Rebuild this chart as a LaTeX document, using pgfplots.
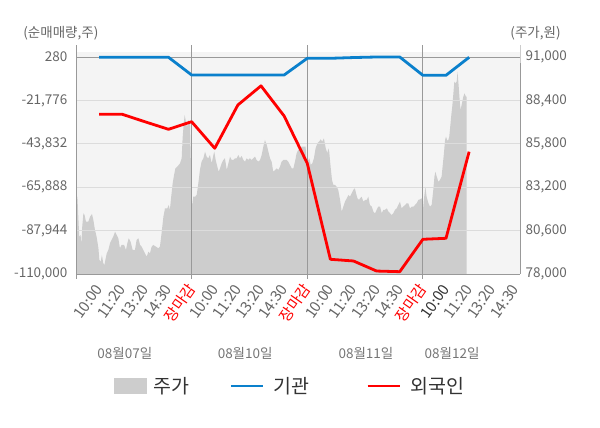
\documentclass[border=0pt]{standalone}
\usepackage{fontspec}
\setmainfont{Noto Sans CJK KR}
\usepackage{pgfplots}
\pgfplotsset{compat=1.18}
\definecolor{bgc}{HTML}{F4F4F4}
\definecolor{areac}{HTML}{CDCDCD}
\definecolor{bluec}{HTML}{0A80CC}
\definecolor{redc}{HTML}{FF0000}
\definecolor{txt}{HTML}{666666}
\definecolor{axc}{HTML}{999999}
\definecolor{rax}{HTML}{CCCCCC}
\definecolor{gridc}{HTML}{DCDCDC}
\definecolor{legtxt}{HTML}{333333}

\pgfplotstableread{
x y
0.00 82536
0.06 82632
0.10 81434
0.14 80236
0.20 80338
0.23 79739
0.27 80835
0.32 81638
0.37 81536
0.43 81134
0.53 81134
0.61 81434
0.69 81596
0.75 81236
0.82 80637
0.89 80236
0.97 79541
1.01 78840
1.07 78738
1.12 79140
1.18 78643
1.23 78541
1.27 78840
1.33 79242
1.40 79439
1.47 79841
1.54 80038
1.61 80236
1.69 80535
1.76 80338
1.83 80140
1.90 79541
1.97 79739
2.08 79739
2.16 79439
2.22 79841
2.28 80140
2.36 79936
2.45 79439
2.55 79439
2.62 80038
2.70 80140
2.77 79739
2.84 79636
2.91 79439
2.98 79242
3.06 79038
3.13 79337
3.20 79242
3.27 79636
3.34 79739
3.46 79636
3.56 79541
3.63 79636
3.70 80440
3.78 81434
3.85 81937
3.95 81937
4.01 82135
4.06 81835
4.11 82536
4.18 83434
4.24 83932
4.30 84333
4.38 84429
4.50 84630
4.57 84932
4.61 86130
4.66 87029
4.70 87526
4.74 87226
4.79 86825
4.83 86927
4.87 87226
4.93 87029
4.97 84429
5.02 82033
5.07 82632
5.15 82632
5.22 82734
5.29 83434
5.36 84231
5.43 84728
5.51 84932
5.58 85327
5.65 85028
5.72 84932
5.79 85130
5.87 84633
5.94 85130
5.98 85327
6.04 84830
6.11 84429
6.17 84129
6.23 84333
6.30 84633
6.37 84830
6.44 84932
6.52 84231
6.59 84633
6.66 85028
6.73 84830
6.80 84830
6.88 84932
6.95 84932
7.02 85130
7.09 84932
7.16 85070
7.24 84830
7.31 84728
7.38 84932
7.45 84830
7.52 84932
7.60 84830
7.67 84932
7.74 85028
7.81 84830
7.88 84728
7.96 84830
8.03 85130
8.10 85627
8.17 86028
8.25 85729
8.32 85327
8.39 84932
8.46 84728
8.53 84129
8.61 84231
8.68 84333
8.75 84231
8.82 84429
8.89 84728
8.97 84830
9.04 84830
9.11 84830
9.18 84728
9.25 84531
9.33 84333
9.40 84333
9.47 84728
9.54 85232
9.61 85429
9.69 85531
9.76 85627
9.93 85627
9.97 84728
10.05 84830
10.09 84932
10.15 84531
10.22 84633
10.29 84932
10.36 85531
10.44 85831
10.51 85926
10.58 86070
10.65 85926
10.72 86130
10.80 85531
10.87 85232
10.91 85531
10.95 85327
11.01 84429
11.07 83632
11.13 83333
11.20 83333
11.27 83231
11.34 83033
11.42 82434
11.49 81733
11.56 82033
11.63 82332
11.71 82536
11.78 82734
11.85 82632
11.92 82836
11.99 83033
12.06 83135
12.11 82836
12.17 82536
12.24 82434
12.28 82536
12.35 82632
12.43 82332
12.50 82434
12.57 82434
12.64 82632
12.71 82135
12.79 82033
12.86 81733
12.93 81638
13.00 81835
13.07 82033
13.15 82033
13.22 81638
13.29 81835
13.36 81835
13.44 81937
13.51 81734
13.58 81638
13.65 81536
13.72 81638
13.79 81835
13.87 81937
13.94 82135
14.01 82332
14.08 81937
14.15 82033
14.23 82135
14.30 82236
14.37 82236
14.44 81937
14.52 82033
14.59 82033
14.66 82135
14.73 82236
14.80 82434
14.88 82476
14.95 82536
14.99 81638
15.05 82536
15.11 83231
15.16 82632
15.24 82236
15.31 82033
15.38 82135
15.45 83033
15.50 83830
15.54 84129
15.60 83830
15.67 83530
15.74 83632
15.81 83830
15.86 84531
15.91 85232
15.96 86028
16.00 86226
16.06 85986
16.10 86028
16.14 86226
16.19 86927
16.23 87526
16.27 88023
16.32 88826
16.36 89520
16.40 89425
16.46 89520
16.50 90119
16.55 89221
16.59 88424
16.63 87825
16.69 88227
16.75 88622
16.80 88826
16.86 88622
16.89 88622
}\pricetable

\pgfplotstableread{
x y
1 130
2 130
3 130
4 130
5 -8868
6 -8868
7 -8868
8 -8868
9 -8868
10 -380
11 -380
12 0
13 280
14 280
15 -9020
16 -9020
17 130
}\insttable

\pgfplotstableread{
x y
1 -28840
2 -28840
3 -32700
4 -36460
5 -32600
6 -46120
7 -24110
8 -14380
9 -29700
10 -53740
11 -102530
12 -103390
13 -108500
14 -108830
15 -92360
16 -91860
17 -47850
}\foreigntable

\begin{document}
\begin{tikzpicture}
\path[use as bounding box] (0pt,0pt) rectangle (600pt,428pt);
\begin{pgfinterruptboundingbox}
% price axis (right)
\begin{axis}[
  at={(76pt,154pt)}, anchor=south west, scale only axis,
  width=444pt, height=229pt,
  xmin=0, xmax=19.2, ymin=78000, ymax=91719,
  scaled y ticks=false,
  axis x line=none,
  axis y line*=right,
  axis line style={draw=rax, line width=0.8pt, -},
  ytick={78000,80600,83200,85800,88400,91000},
  yticklabels={{78,000},{80,600},{83,200},{85,800},{88,400},{91,000}},
  yticklabel style={font=\fontsize{13.5}{16}\selectfont, text=txt, anchor=west, xshift=2pt},
  major tick length=0pt,
]
\fill[bgc] (rel axis cs:0,0) rectangle (rel axis cs:1,0.9694);
\addplot[fill=areac, draw=none] table[x=x,y=y] {\pricetable} \closedcycle;
\end{axis}
% flow axis (left)
\begin{axis}[
  at={(76pt,154pt)}, anchor=south west, scale only axis,
  width=444pt, height=229pt,
  xmin=0, xmax=19.2, ymin=-110000, ymax=6378,
  scaled y ticks=false, scaled x ticks=false,
  axis x line*=bottom,
  axis y line*=left,
  axis line style={draw=axc, line width=0.8pt, -},
  ytick={280,-21776,-43832,-65888,-87944,-110000},
  yticklabels={280,{-21,776},{-43,832},{-65,888},{-87,944},{-110,000}},
  yticklabel style={font=\fontsize{13.5}{16}\selectfont, text=txt, anchor=east, xshift=-5pt},
  ymajorgrids=true,
  major grid style={draw=gridc, line width=0.8pt},
  ytick style={draw=none},
  extra y ticks={280},
  extra y tick labels={},
  extra y tick style={ymajorgrids=true, major grid style={draw=axc, line width=0.8pt}},
  xtick={1,...,19},
  xticklabels={10:00,11:20,13:20,14:30,{\color{redc}장마감},10:00,11:20,13:20,14:30,{\color{redc}장마감},10:00,11:20,13:20,14:30,{\color{redc}장마감},{\color{legtxt}10:00},11:20,13:20,14:30},
  xticklabel style={font=\fontsize{15}{17}\selectfont, text=txt, xshift=0pt, yshift=-12pt, rotate=55, anchor=east, inner sep=0pt},
  xtick style={draw=none},
  extra x ticks={0,5,10,15},
  extra x tick labels={},
  extra x tick style={xmajorgrids=true, major grid style={draw=axc, line width=0.8pt}, xtick style={draw=axc, line width=0.8pt}, major tick length=5pt, tick align=outside},
  clip=false,
  legend columns=3,
  legend style={at={(0.0856,-0.489)}, anchor=west, draw=none, fill=none, inner sep=0pt,
    nodes={inner sep=0pt},
    font=\fontsize{19.5}{22}\selectfont, text=legtxt,
    /tikz/column 1/.style={column sep=7pt},
    /tikz/column 2/.style={column sep=40pt},
    /tikz/column 3/.style={column sep=9pt},
    /tikz/column 4/.style={column sep=57pt},
    /tikz/column 5/.style={column sep=10pt}},
]
\addlegendimage{legend image code/.code={\fill[areac] (0pt,-7.5pt) rectangle (32pt,7.5pt);}}
\addlegendentry{주가}
\addplot[bluec, line width=2.8pt, line join=round,
  legend image code/.code={\draw[bluec, line width=2.8pt] (0pt,0pt) -- (32pt,0pt);}]
  table[x=x,y=y] {\insttable};
\addlegendentry{기관}
\addplot[redc, line width=2.8pt, line join=round,
  legend image code/.code={\draw[redc, line width=2.8pt] (0pt,0pt) -- (32pt,0pt);}]
  table[x=x,y=y] {\foreigntable};
\addlegendentry{외국인}
\draw[axc, line width=0.8pt] (axis cs:19.2,-110000) -- ++(0,-5pt);
\node[font=\fontsize{13.5}{16}\selectfont, text=txt] at (axis description cs:-0.034,1.052) {(순매매량,주)};
\node[font=\fontsize{13.5}{16}\selectfont, text=txt] at (axis description cs:1.035,1.052) {(주가,원)};
\node[font=\fontsize{13.5}{16}\selectfont, text=txt!90!white] at (axis description cs:0.110,-0.345) {08월07일};
\node[font=\fontsize{13.5}{16}\selectfont, text=txt!90!white] at (axis description cs:0.381,-0.345) {08월10일};
\node[font=\fontsize{13.5}{16}\selectfont, text=txt!90!white] at (axis description cs:0.653,-0.345) {08월11일};
\node[font=\fontsize{13.5}{16}\selectfont, text=txt!90!white] at (axis description cs:0.847,-0.345) {08월12일};
\end{axis}
\end{pgfinterruptboundingbox}
\end{tikzpicture}
\end{document}
